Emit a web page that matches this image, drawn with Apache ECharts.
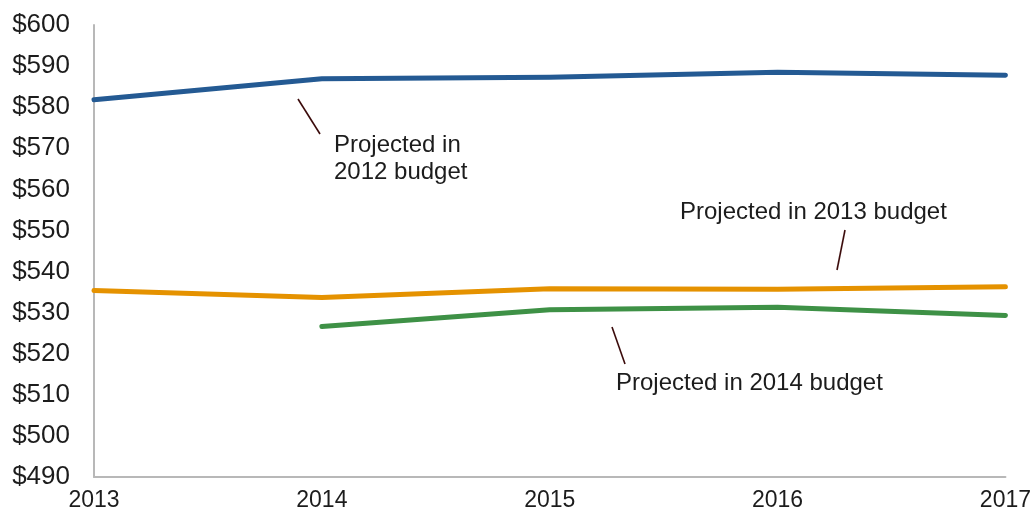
<!DOCTYPE html>
<html>
<head>
<meta charset="utf-8">
<script src="https://cdn.jsdelivr.net/npm/echarts@6/dist/echarts.min.js"></script>
<style>
  html, body { margin: 0; padding: 0; background: #ffffff; }
  #chart { width: 1034px; height: 517px; }
</style>
</head>
<body>
<div id="chart"></div>
<script>
// Fiscal years on the horizontal axis
const years = ['2013', '2014', '2015', '2016', '2017'];

// Projected outlays (billions of dollars) from each budget
const budget2012 = [581.8, 586.9, 587.3, 588.5, 587.8];
const budget2013 = [535.4, 533.7, 535.8, 535.7, 536.3];
const budget2014 = [null, 526.6, 530.7, 531.3, 529.3];

// Value axis range and step
const yMin = 490;
const yMax = 600;
const yStep = 10;

const FONT = 'Liberation Sans, Arial, sans-serif';
const TEXT = '#1c1c1c';
const LEADER = '#3b0b0b';

const chart = echarts.init(document.getElementById('chart'), null, { renderer: 'canvas' });

function lineSeries(name, data, color) {
  return {
    name: name,
    type: 'line',
    data: data,
    symbol: 'none',
    connectNulls: false,
    lineStyle: { color: color, width: 5, cap: 'round', join: 'round' },
    itemStyle: { color: color },
    emphasis: { disabled: true },
    animation: false
  };
}

const leader = (x1, y1, x2, y2) => ({
  type: 'line',
  shape: { x1: x1, y1: y1, x2: x2, y2: y2 },
  style: { stroke: LEADER, lineWidth: 1.6 },
  silent: true,
  z: 10
});

const note = (x, y, text) => ({
  type: 'text',
  x: x,
  y: y,
  style: {
    text: text,
    font: '24px ' + FONT,
    fill: TEXT,
    textVerticalAlign: 'middle'
  },
  silent: true,
  z: 10
});

chart.setOption({
  animation: false,
  grid: { left: 94, right: 28, top: 25, bottom: 40, containLabel: false },
  xAxis: {
    type: 'category',
    data: years,
    boundaryGap: false,
    axisLine: { show: true, lineStyle: { color: '#b8b8b8', width: 2 } },
    axisTick: { show: false },
    axisLabel: { color: TEXT, fontSize: 23, fontFamily: FONT, margin: 12 },
    splitLine: { show: false }
  },
  yAxis: {
    type: 'value',
    min: yMin,
    max: yMax,
    interval: yStep,
    axisLine: { show: true, lineStyle: { color: '#b8b8b8', width: 2 } },
    axisTick: { show: false },
    axisLabel: {
      color: TEXT,
      fontSize: 26,
      fontFamily: FONT,
      margin: 24,
      formatter: v => '$' + v
    },
    splitLine: { show: false }
  },
  series: [
    lineSeries('Projected in 2012 budget', budget2012, '#245a93'),
    lineSeries('Projected in 2013 budget', budget2013, '#e59200'),
    lineSeries('Projected in 2014 budget', budget2014, '#3e9146')
  ],
  graphic: [
    leader(298, 99, 320, 134),
    note(334, 145, 'Projected in'),
    note(334, 172, '2012 budget'),
    leader(845, 230, 837, 270),
    note(680, 212, 'Projected in 2013 budget'),
    leader(612, 327, 625, 364),
    note(616, 383, 'Projected in 2014 budget')
  ]
});
</script>
</body>
</html>
